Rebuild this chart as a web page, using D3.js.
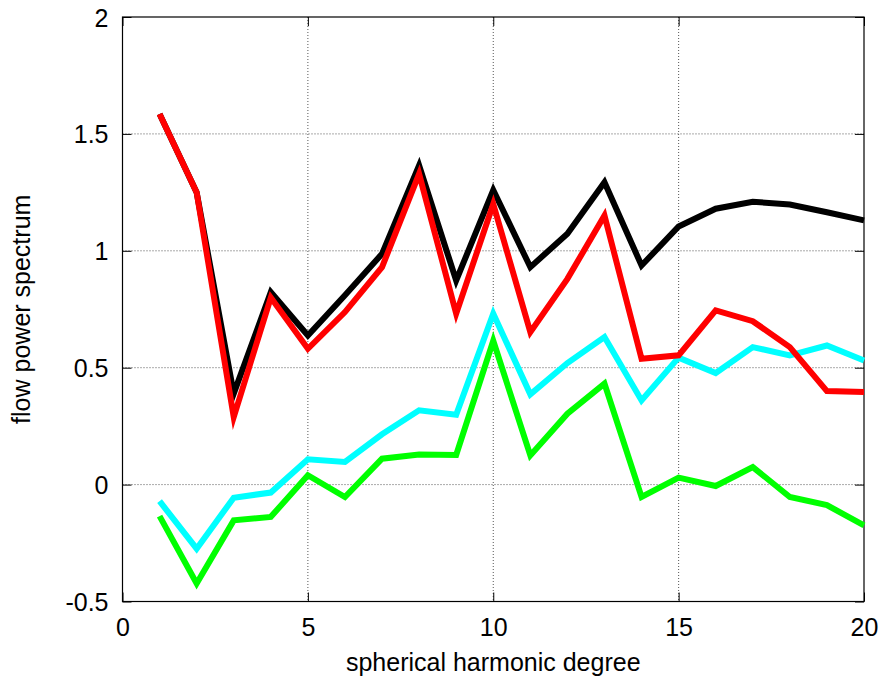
<!DOCTYPE html>
<html>
<head>
<meta charset="utf-8">
<script src="https://cdn.jsdelivr.net/npm/d3@7"></script>
<style>
  html, body { margin: 0; padding: 0; background: #fff; }
  svg { display: block; }
  text { font-family: "Liberation Sans", Arial, Helvetica, sans-serif; fill: #000; }
</style>
</head>
<body>
<svg id="chart" width="880" height="677"></svg>
<script>
// ---- data ----
const degrees = [1,2,3,4,5,6,7,8,9,10,11,12,13,14,15,16,17,18,19,20];
const blackSeries = [1.585,1.25,0.389,0.823,0.638,0.81,0.987,1.365,0.873,1.26,0.93,1.073,1.293,0.937,1.104,1.18,1.21,1.198,1.165,1.13];
const redSeries   = [1.585,1.25,0.289,0.80,0.581,0.738,0.93,1.329,0.731,1.20,0.652,0.88,1.151,0.538,0.553,0.745,0.699,0.588,0.40,0.396];
const cyanSeries  = [-0.071,-0.274,-0.056,-0.034,0.108,0.097,0.215,0.318,0.299,0.731,0.386,0.52,0.631,0.36,0.543,0.477,0.588,0.553,0.595,0.531];
const greenSeries = [-0.135,-0.423,-0.153,-0.138,0.04,-0.053,0.111,0.129,0.127,0.615,0.125,0.303,0.432,-0.053,0.03,-0.006,0.075,-0.053,-0.088,-0.174];
const xTicks = [0,5,10,15,20];
const yTicks = [-0.5,0,0.5,1,1.5,2];
const yTickLabels = ["-0.5","0","0.5","1","1.5","2"];
const xLabel = "spherical harmonic degree";
const yLabel = "flow power spectrum";

const series = [
  {name: "black", values: blackSeries, color: "#000000"},
  {name: "green", values: greenSeries, color: "#00ff00"},
  {name: "cyan",  values: cyanSeries,  color: "#00ffff"},
  {name: "red",   values: redSeries,   color: "#ff0000"}
];

// ---- layout ----
const mLeft = 122.5, mRight = 864, mTop = 17, mBottom = 601.5;
const svg = d3.select("#chart");
const x = d3.scaleLinear().domain([0, 20]).range([mLeft, mRight]);
const y = d3.scaleLinear().domain([-0.5, 2]).range([mBottom, mTop]);

// grid
const grid = svg.append("g");
grid.selectAll("line.gx").data(xTicks.slice(1, -1)).enter().append("line")
  .attr("x1", d => x(d)).attr("x2", d => x(d))
  .attr("y1", mTop).attr("y2", mBottom)
  .attr("stroke", "#555").attr("stroke-width", 1).attr("stroke-dasharray", "1,2");
grid.selectAll("line.gy").data(yTicks.slice(1, -1)).enter().append("line")
  .attr("x1", mLeft).attr("x2", mRight)
  .attr("y1", d => y(d)).attr("y2", d => y(d))
  .attr("stroke", "#555").attr("stroke-width", 1).attr("stroke-dasharray", "1,2");

// axes via d3 (inward ticks)
const tickLen = 9;
const fs = 25;
const xAxis = svg.append("g").attr("transform", `translate(0,${mBottom})`)
  .call(d3.axisBottom(x).tickValues(xTicks).tickSize(-tickLen).tickPadding(tickLen + 8).tickFormat(d => String(d)));
const yAxis = svg.append("g").attr("transform", `translate(${mLeft},0)`)
  .call(d3.axisLeft(y).tickValues(yTicks).tickSize(-tickLen).tickPadding(14)
    .tickFormat((d, i) => yTickLabels[i]));
const xAxisTop = svg.append("g").attr("transform", `translate(0,${mTop})`)
  .call(d3.axisTop(x).tickValues(xTicks).tickSize(-tickLen).tickFormat(""));
const yAxisRight = svg.append("g").attr("transform", `translate(${mRight},0)`)
  .call(d3.axisRight(y).tickValues(yTicks).tickSize(-tickLen).tickFormat(""));
[xAxis, yAxis, xAxisTop, yAxisRight].forEach(g => {
  g.select(".domain").remove();
  g.selectAll(".tick line").attr("stroke", "#000").attr("stroke-width", 1);
  g.selectAll("text").style("font-size", fs + "px")
    .style("font-family", '"Liberation Sans", Arial, Helvetica, sans-serif');
});
xAxis.selectAll("text").attr("dy", "0.71em");
yAxis.selectAll("text").attr("dy", "0.36em");

// border box
svg.append("rect")
  .attr("x", mLeft).attr("y", mTop)
  .attr("width", mRight - mLeft).attr("height", mBottom - mTop)
  .attr("fill", "none").attr("stroke", "#000").attr("stroke-width", 1.2);

// lines
const line = d3.line().x((d, i) => x(degrees[i])).y(d => y(d));
svg.append("g").selectAll("path").data(series).enter().append("path")
  .attr("d", d => line(d.values))
  .attr("fill", "none")
  .attr("stroke", d => d.color)
  .attr("stroke-width", 6)
  .attr("stroke-linejoin", "miter")
  .attr("stroke-miterlimit", 10)
  .attr("stroke-linecap", "butt");

// axis labels
svg.append("text")
  .attr("x", (mLeft + mRight) / 2).attr("y", 671)
  .attr("text-anchor", "middle")
  .style("font-size", fs + "px")
  .text(xLabel);
svg.append("text")
  .attr("transform", `translate(30,${(mTop + mBottom) / 2}) rotate(-90)`)
  .attr("text-anchor", "middle")
  .style("font-size", fs + "px")
  .text(yLabel);
</script>
</body>
</html>
